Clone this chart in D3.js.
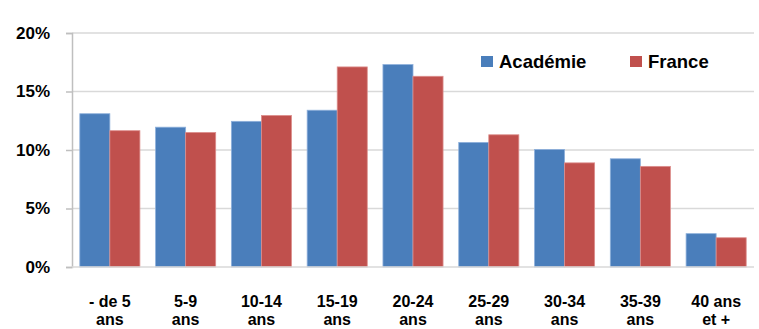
<!DOCTYPE html>
<html>
<head>
<meta charset="utf-8">
<script src="https://cdn.jsdelivr.net/npm/d3@7"></script>
<style>
  html, body { margin: 0; padding: 0; background: #fff; }
  svg { display: block; }
  text { font-family: "Liberation Sans", Arial, sans-serif; font-weight: bold; fill: #000; }
</style>
</head>
<body>
<script>
// Age groups (two-line labels) and shares per group
const categories = ["- de 5|ans", "5-9|ans", "10-14|ans", "15-19|ans", "20-24|ans", "25-29|ans", "30-34|ans", "35-39|ans", "40 ans|et +"];
const academie = [13.1, 11.95, 12.45, 13.4, 17.3, 10.65, 10.05, 9.25, 2.85];
const france   = [11.65, 11.5, 12.95, 17.1, 16.3, 11.3, 8.9, 8.6, 2.5];
const seriesNames = ["Académie", "France"];
const yTicks = [0, 5, 10, 15, 20];

const W = 759, H = 329;
const margin = { left: 72, right: 5, top: 33, bottom: 62 };
const colors = ["#4a7ebb", "#c0504d"];

const svg = d3.select("body").append("svg").attr("width", W).attr("height", H);

const x = d3.scaleBand().domain(categories).range([margin.left, W - margin.right]).paddingInner(0.207).paddingOuter(0.103);
const xs = d3.scaleBand().domain(seriesNames).range([0, x.bandwidth()]);
const y = d3.scaleLinear().domain([0, 20]).range([H - margin.bottom, margin.top]);

// gridlines
svg.append("g").selectAll("line").data(yTicks.filter(d => d > 0)).join("line")
  .attr("x1", margin.left).attr("x2", W - margin.right)
  .attr("y1", d => y(d)).attr("y2", d => y(d))
  .attr("stroke", "#d9d9d9").attr("stroke-width", 1.5);

// y axis
const yAxis = svg.append("g").attr("transform", `translate(${margin.left},0)`)
  .call(d3.axisLeft(y).tickValues(yTicks).tickFormat(d => d + "%").tickSize(6).tickPadding(16));
yAxis.select(".domain").attr("stroke", "#bfbfbf").attr("stroke-width", 1.5);
yAxis.selectAll(".tick line").attr("stroke", "#bfbfbf").attr("stroke-width", 1.5);
yAxis.selectAll(".tick text").attr("font-size", 17).attr("font-family", "Liberation Sans, Arial, sans-serif").attr("font-weight", "bold").attr("fill", "#000");

// bars
const data = categories.map((c, i) => ({ c, vals: [academie[i], france[i]] }));
const groups = svg.append("g").selectAll("g").data(data).join("g")
  .attr("transform", d => `translate(${x(d.c)},0)`);
groups.selectAll("rect").data(d => d.vals.map((v, j) => ({ v, s: seriesNames[j], j }))).join("rect")
  .attr("x", d => xs(d.s))
  .attr("y", d => y(d.v))
  .attr("width", xs.bandwidth())
  .attr("height", d => y(0) - y(d.v))
  .attr("fill", d => colors[d.j])
  .attr("stroke", d => d.j === 0 ? "#8eb0db" : "#dc8e8c")
  .attr("stroke-width", 0.8);

// baseline
svg.append("line").attr("x1", margin.left).attr("x2", W - margin.right)
  .attr("y1", y(0)).attr("y2", y(0)).attr("stroke", "#d9d9d9").attr("stroke-width", 1.5);

// x axis labels, one text per line
const lines = categories.flatMap((c, i) => c.split("|").map((t, k) => ({ c, t, k })));
svg.append("g").selectAll("text").data(lines).join("text")
  .attr("text-anchor", "middle")
  .attr("font-size", 16)
  .attr("x", d => x(d.c) + x.bandwidth() / 2)
  .attr("y", d => d.k === 0 ? 307 : 325)
  .text(d => d.t);

// legend
const legendX = [481, 630];
const lg = svg.append("g").selectAll("g").data(seriesNames).join("g")
  .attr("transform", (d, i) => `translate(${legendX[i]},56)`);
lg.append("rect").attr("width", 12).attr("height", 11).attr("fill", (d, i) => colors[i]);
lg.append("text").attr("x", 18).attr("y", 11.5).attr("font-size", 18.5).text(d => d);
</script>
</body>
</html>
